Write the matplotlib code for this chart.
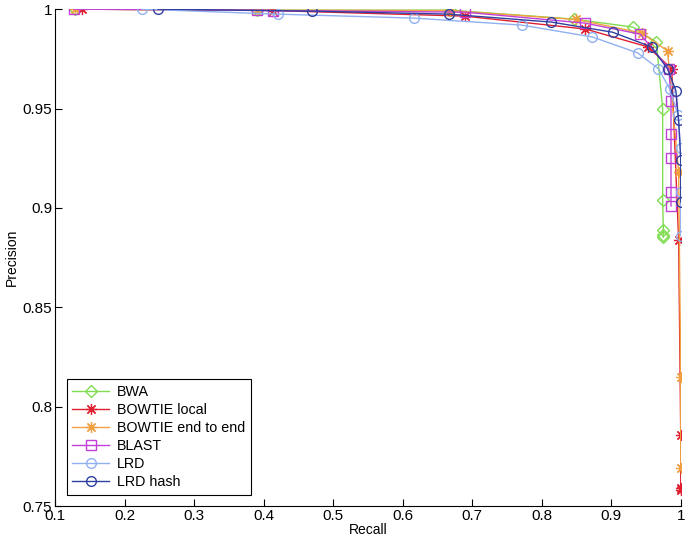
import matplotlib
matplotlib.use('Agg')
import matplotlib.pyplot as plt

plt.rcParams['font.family'] = ['Liberation Sans', 'DejaVu Sans']

# courbes precision / recall
bwa_r = [0.129, 0.390, 0.668, 0.846, 0.931, 0.965, 0.974, 0.974, 0.975, 0.975, 0.975]
bwa_p = [1.000, 0.9995, 0.9995, 0.995, 0.991, 0.9834, 0.950, 0.904, 0.889, 0.8863, 0.8853]

bl_r = [0.139, 0.413, 0.689, 0.863, 0.953, 0.987, 0.997, 1.000, 1.000, 1.000]
bl_p = [1.000, 0.9993, 0.9965, 0.990, 0.981, 0.970, 0.8838, 0.786, 0.759, 0.758]

be_r = [0.128, 0.390, 0.668, 0.850, 0.944, 0.981, 0.997, 1.000, 1.000]
be_p = [1.000, 0.9995, 0.9993, 0.9948, 0.988, 0.979, 0.918, 0.815, 0.769]

blast_r = [0.127, 0.390, 0.413, 0.689, 0.862, 0.942, 0.983, 0.986, 0.986, 0.986, 0.986, 0.986]
blast_p = [1.000, 0.9995, 0.9993, 0.9985, 0.993, 0.9874, 0.970, 0.954, 0.937, 0.925, 0.908, 0.901]

lrd_r = [0.225, 0.420, 0.616, 0.771, 0.873, 0.938, 0.968, 0.984, 0.996, 1.000, 1.000, 1.000]
lrd_p = [1.000, 0.9975, 0.9955, 0.992, 0.986, 0.978, 0.970, 0.960, 0.947, 0.930, 0.908, 0.886]

lrdh_r = [0.248, 0.469, 0.666, 0.814, 0.902, 0.958, 0.981, 0.993, 0.997, 1.000, 1.000]
lrdh_p = [1.000, 0.999, 0.9975, 0.9935, 0.9884, 0.981, 0.970, 0.959, 0.944, 0.924, 0.903]

xticks = [0.1, 0.2, 0.3, 0.4, 0.5, 0.6, 0.7, 0.8, 0.9, 1.0]
xlabels = ['0.1', '0.2', '0.3', '0.4', '0.5', '0.6', '0.7', '0.8', '0.9', '1']
yticks = [0.75, 0.8, 0.85, 0.9, 0.95, 1.0]
ylabels = ['0.75', '0.8', '0.85', '0.9', '0.95', '1']

fig = plt.figure(figsize=(6.89, 5.39), dpi=100)
ax = fig.add_axes([0.080, 0.061, 0.908, 0.922])

aster = (8, 2, 0)  # asterisque facon matlab
ax.plot(bwa_r, bwa_p, color='#80dc50', marker='D', ms=6, mfc='none', lw=1, label='BWA')
ax.plot(bl_r, bl_p, color='#e02030', marker=aster, ms=8, mew=0.9, lw=1, label='BOWTIE local')
ax.plot(be_r, be_p, color='#f0a040', marker=aster, ms=8, mew=0.9, lw=1, label='BOWTIE end to end')
ax.plot(blast_r, blast_p, color='#c040d8', marker='s', ms=6.5, mfc='none', lw=1, label='BLAST')
ax.plot(lrd_r, lrd_p, color='#90b0f0', marker='o', ms=7, mfc='none', lw=1, label='LRD')
ax.plot(lrdh_r, lrdh_p, color='#3040a0', marker='o', ms=7, mfc='none', lw=1, label='LRD hash')

ax.set_xlim(0.1, 1.0)
ax.set_ylim(0.75, 1.0)
ax.set_xticks(xticks)
ax.set_xticklabels(xlabels)
ax.set_yticks(yticks)
ax.set_yticklabels(ylabels)
ax.tick_params(direction='in', labelsize=11, length=5, pad=2)
ax.spines['top'].set_visible(False)
ax.spines['right'].set_visible(False)
ax.set_xlabel('Recall', fontsize=10, labelpad=0)
ax.set_ylabel('Precision', fontsize=10, labelpad=3)

leg = ax.legend(loc='lower left', fontsize=10.3, handlelength=2.6, handletextpad=0.5,
                labelspacing=0.28, fancybox=False, edgecolor='black', framealpha=1,
                borderaxespad=0.8)
leg.get_frame().set_linewidth(0.8)

plt.savefig('out.png', dpi=100)
